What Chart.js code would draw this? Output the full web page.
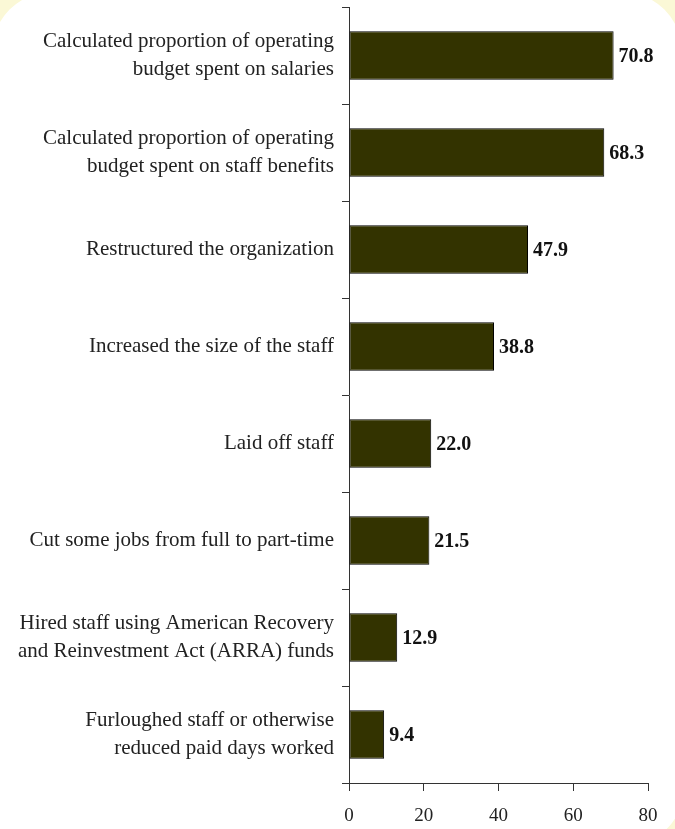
<!DOCTYPE html>
<html>
<head>
<meta charset="utf-8">
<script src="https://cdn.jsdelivr.net/npm/chart.js@4/dist/chart.umd.min.js"></script>
<style>
  html, body { margin: 0; padding: 0; }
  body { width: 675px; height: 829px; background: #fbf8d6; position: relative; overflow: hidden; }
  .panel { position: absolute; left: -8px; top: -8px; right: -7px; bottom: -14px; background: #fff; border-radius: 60px 60px 50px 20px; }
  #wrap { position: absolute; left: 0; top: 0; width: 675px; height: 829px; }
</style>
</head>
<body>
<div class="panel"></div>
<div id="wrap"><canvas id="chart" width="675" height="829"></canvas></div>
<script>
const categories = [
    ['Calculated proportion of operating', 'budget spent on salaries'],
    ['Calculated proportion of operating', 'budget spent on staff benefits'],
    'Restructured the organization',
    'Increased the size of the staff',
    'Laid off staff',
    'Cut some jobs from full to part-time',
    ['Hired staff using American Recovery', 'and Reinvestment Act (ARRA) funds'],
    ['Furloughed staff or otherwise', 'reduced paid days worked']
];
const percentages = [70.8, 68.3, 47.9, 38.8, 22.0, 21.5, 12.9, 9.4];
const xTicks = [0, 20, 40, 60, 80];

const serif = '"Liberation Serif", "DejaVu Serif", serif';

// value printed just past the end of each bar
const valueLabels = {
    id: 'valueLabels',
    afterDatasetsDraw(chart) {
        const ctx = chart.ctx;
        const meta = chart.getDatasetMeta(0);
        ctx.save();
        ctx.font = 'bold 20px ' + serif;
        ctx.fillStyle = '#111';
        ctx.textAlign = 'left';
        ctx.textBaseline = 'middle';
        meta.data.forEach((bar, i) => {
            ctx.fillText(percentages[i].toFixed(1), bar.x + 5, bar.y + 1);
        });
        ctx.restore();
    }
};

new Chart(document.getElementById('chart'), {
    type: 'bar',
    data: {
        labels: categories,
        datasets: [{
            data: percentages,
            backgroundColor: '#333300',
            borderColor: '#000',
            borderWidth: 1,
            borderSkipped: false,
            barPercentage: 0.5,
            categoryPercentage: 1
        }]
    },
    options: {
        indexAxis: 'y',
        responsive: false,
        animation: false,
        layout: { padding: { top: 7, right: 27, left: 0, bottom: 0 } },
        plugins: {
            legend: { display: false },
            tooltip: { enabled: false }
        },
        scales: {
            x: {
                min: 0,
                max: 80,
                afterBuildTicks: scale => { scale.ticks = xTicks.map(v => ({ value: v })); },
                afterFit: scale => {
                    scale.height = 46;
                    scale.paddingLeft = 0;
                    scale.paddingRight = 0;
                },
                grid: { drawOnChartArea: false, drawTicks: true, tickLength: 8, color: '#333' },
                border: { color: '#333', width: 1 },
                ticks: { color: '#222', padding: 14, font: { family: serif, size: 19 } }
            },
            y: {
                afterFit: scale => {
                    scale.width = 349;
                    scale.paddingTop = 0;
                    scale.paddingBottom = 0;
                },
                grid: { offset: true, drawOnChartArea: false, drawTicks: true, tickLength: 7, color: '#333' },
                border: { color: '#333', width: 1 },
                ticks: { color: '#222', padding: 8, font: { family: serif, size: 21, lineHeight: 1.3 } }
            }
        }
    },
    plugins: [valueLabels]
});
</script>
</body>
</html>
